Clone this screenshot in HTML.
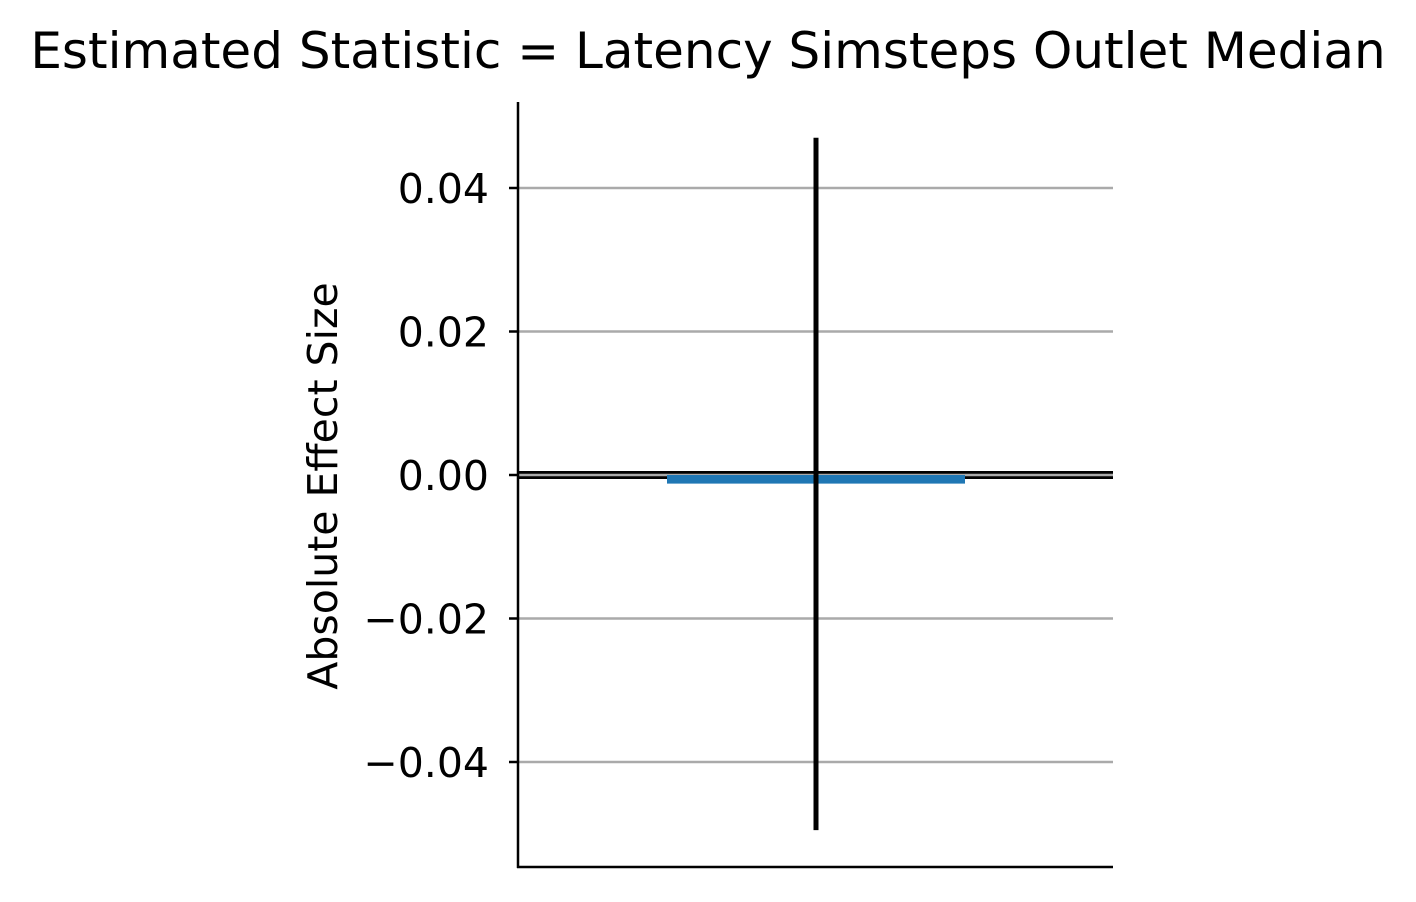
<!DOCTYPE html>
<html><head><meta charset="utf-8"><style>
body{margin:0;background:#fff}
svg text{font-family:"DejaVu Sans","Liberation Sans",sans-serif}
</style></head><body>
<svg id="chart" width="1416" height="897">
<text x="708" y="68" font-size="50" text-anchor="middle">Estimated Statistic = Latency Simsteps Outlet Median</text>
<text transform="translate(337,486) rotate(-90)" font-size="41" text-anchor="middle">Absolute Effect Size</text>
<g id="grid"></g>
<g id="marks"></g>
<line x1="518" y1="102" x2="518" y2="868" stroke="#000" stroke-width="2.5"/>
<line x1="517" y1="867" x2="1113" y2="867" stroke="#000" stroke-width="2.5"/>
</svg>
<script>
const yTicks=[0.04,0.02,0,-0.02,-0.04];
const tickLabels=["0.04","0.02","0.00","\u22120.02","\u22120.04"];
const categories=["effect"];
const values=[-0.0012];
const ciLow=[-0.0495];
const ciHigh=[0.047];
const NS="http://www.w3.org/2000/svg";
const y=v=>475-v*7175;
const x0=518,x1=1113;
const grid=document.getElementById('grid'),marks=document.getElementById('marks');
function mk(tag,attrs,parent){const e=document.createElementNS(NS,tag);for(const k in attrs)e.setAttribute(k,attrs[k]);parent.appendChild(e);return e;}
const z=mk('line',{x1:x0,x2:x1,y1:y(0),y2:y(0),stroke:'#000','stroke-width':8},grid);


yTicks.forEach((t,i)=>{
 const g=mk('line',{x1:x0,x2:x1,y1:y(t),y2:y(t),stroke:'#aaa','stroke-width':2.5},grid);
 
 
 const tk=mk('line',{x1:x0-9,x2:x0,y1:y(t),y2:y(t),stroke:'#000','stroke-width':2.5},grid);
 
 
 const tx=mk('text',{x:x0-29,y:y(t)+15,'font-size':41,'text-anchor':'end'},grid);
 tx.textContent=tickLabels[i];
 
 
});
categories.forEach((c,i)=>{
 const cx=816,w=298;
 const top=Math.min(y(0),y(values[i])),h=Math.abs(y(values[i])-y(0));
 const b=mk('rect',{x:cx-w/2,y:top,width:w,height:h,fill:'#1f77b4'},marks);
 
 
 const e=mk('line',{x1:cx,x2:cx,y1:y(ciHigh[i]),y2:y(ciLow[i]),stroke:'#000','stroke-width':5},marks);
 
 
});
</script>
</body></html>
